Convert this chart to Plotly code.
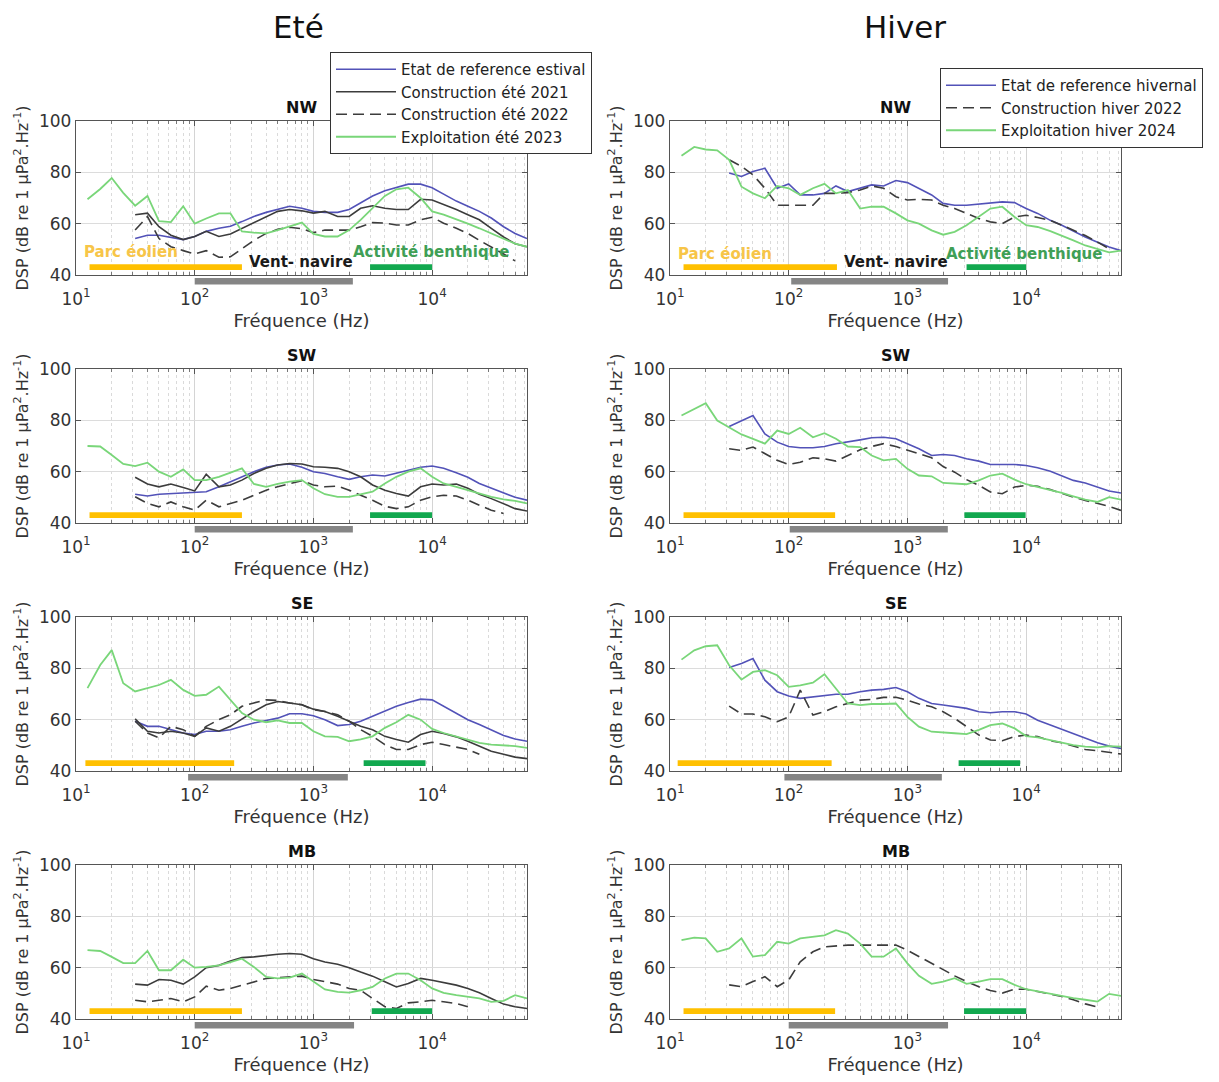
import math
import plotly.graph_objects as go

N = None
FREQ = [12.5, 16, 20, 25, 31.5, 40, 50, 63, 80, 100, 125, 160, 200, 250, 315, 400, 500, 630,
        800, 1000, 1250, 1600, 2000, 2500, 3150, 4000, 5000, 6300, 8000, 10000, 12500, 16000,
        20000, 25000, 31500, 40000, 50000, 63000]

# ---------------- Summer (Eté) ----------------
NW_S_REF = [N, N, N, N, 54.2, 55.5, 55.5, 54.8, 53.8, 55, 57, 58.2, 59, 60.8, 62.8, 64.4, 65.7, 66.8, 66, 64.8, 64.4, 64.4, 65.5, 68, 70.8, 72.8, 74.1, 75.4, 75.4, 74, 71.5, 68.8, 66.8, 64.8, 62.2, 58.8, 56.2, 54.2]
NW_S_C21 = [N, N, N, N, 63.5, 64.1, 58.8, 55.5, 53.8, 55, 57, 55, 56, 58.2, 60.2, 62.8, 64.8, 65.5, 65, 64.1, 64.8, 62.8, 62.8, 66, 67, 66, 65.5, 65.5, 69.5, 69.2, 67.5, 65.5, 63.5, 61.5, 58.2, 54.8, 52.2, 51]
NW_S_C22 = [N, N, N, N, 57.5, 62.8, 54.2, 51, 49.5, 48.2, 49.5, 46.9, 47.1, 50.2, 53.5, 56.2, 57.8, 58.6, 58, 56.5, 57.5, 57.5, 57.5, 58.8, 60.4, 60.2, 59.5, 59.5, 61.5, 62.5, 60.2, 58.2, 56.2, 53.5, 51, 48.2, 45.5, N]
NW_S_EXP = [69.5, 73.5, 77.8, 72, 67, 70.8, 61, 60.6, 66.8, 60, 62, 64, 64, 57, 56.5, 56.2, 57.5, 58.8, 60.4, 56, 55, 55, 57.5, 61.5, 66, 70.8, 73.4, 74, 70, 64.8, 63.5, 61.5, 60, 58.2, 56.2, 54.2, 52.2, 51]

SW_S_REF = [N, N, N, N, 51.2, 50.5, 51.2, 51.5, 51.8, 52.2, 52.2, 54.1, 56.1, 58, 60, 61.7, 62.6, 63, 61.7, 60, 59.3, 58, 57, 58, 58.7, 58.3, 59.3, 60.6, 61.7, 62.2, 61.3, 59.6, 57.8, 55.4, 53.5, 51.8, 50, 48.9]
SW_S_C21 = [N, N, N, N, 57.8, 55.2, 54.1, 55.2, 53.8, 52.5, 59, 54.1, 54.8, 56.7, 59.3, 61.3, 62.6, 63.2, 63, 61.9, 61.7, 61.3, 60, 58, 54.8, 52.8, 51.5, 50.5, 54.1, 55.2, 54.8, 55.2, 53.5, 51.2, 49.5, 47.6, 45.6, 44.7]
SW_S_C22 = [N, N, N, N, 50.2, 47.6, 46.3, 48.2, 46.3, 45, 48.9, 46.3, 47.6, 48.9, 50.8, 52.8, 54.1, 55.4, 56.5, 54.8, 54.1, 54.4, 52.8, 50.8, 48.9, 46.5, 45.6, 46.3, 48.9, 50.2, 50.8, 50.5, 48.9, 46.9, 45, 43.7, N, N]
SW_S_EXP = [70, 69.8, 66.5, 63, 62.2, 63.5, 60, 58, 60.9, 56.7, 56.7, 58, 59.6, 61.3, 55.2, 54.1, 55.2, 56.1, 56.7, 53.5, 51.2, 50.2, 50.2, 51.2, 52.2, 55.4, 58, 60, 61.3, 58, 55.4, 54.1, 52.8, 51.5, 50.2, 49.2, 48.6, 47.6]

SE_S_REF = [N, N, N, N, 59.4, 57.4, 57.4, 56.1, 54.8, 54.2, 55.5, 55.5, 56.1, 57.4, 58.7, 59.7, 60.6, 62.3, 62.3, 61.5, 60, 57.7, 58.1, 59.4, 61.3, 63.2, 65.2, 66.7, 68, 67.7, 65.2, 62.3, 60, 58.1, 56.1, 53.8, 52.5, 51.6]
SE_S_C21 = [N, N, N, N, 60.3, 55.5, 54.8, 55.5, 54.8, 53.5, 56.8, 55.5, 57.4, 60.3, 63.2, 65.8, 67.1, 66.5, 65.8, 64.1, 63.2, 61.3, 59.4, 57.4, 56.1, 53.5, 52.3, 51.2, 54.2, 55.5, 54.6, 53.3, 51.6, 49.7, 47.7, 46.5, 45.4, 44.8]
SE_S_C22 = [N, N, N, N, 59.4, 54.8, 52.9, 57.4, 56.1, 53.5, 57.4, 60, 61.9, 65.2, 66.5, 67.7, 67.5, 66.5, 65.8, 63.9, 63.2, 61.9, 59.4, 56.1, 53.5, 50.3, 48.4, 48.4, 50.3, 51.2, 50.3, 49.4, 48.4, 46.5, N, N, N, N]
SE_S_EXP = [72.3, 81.3, 87.1, 74.2, 71, 72.3, 73.5, 75.5, 71.6, 69.3, 69.7, 72.9, 67.7, 62.6, 60, 59, 59.7, 58.7, 58.7, 55.5, 53.5, 53.3, 51.6, 52.3, 53.5, 56.8, 59, 61.9, 60, 56.4, 54.8, 53.5, 52.3, 51, 50.3, 49.9, 49.7, 49]

MB_S_C21 = [N, N, N, N, 53.6, 53.2, 55.4, 55.1, 53.6, 56.4, 60, 60.9, 62.6, 63.9, 64.2, 64.8, 65.2, 65.5, 65.2, 63.5, 62.2, 61.3, 60, 58.3, 56.7, 54.5, 52.5, 53.8, 55.8, 55.1, 54.1, 53.2, 51.9, 50.2, 48, 45.8, 44.8, 44.1]
MB_S_C22 = [N, N, N, N, 47.3, 46.7, 47.3, 48, 46.7, 48.6, 52.8, 51.2, 51.9, 53.2, 54.5, 55.8, 56.1, 56.4, 56.7, 55.4, 54.5, 53.6, 51.9, 51.2, 48, 44.8, 44.1, 46.3, 46.7, 47.3, 46.7, 46, 44.8, N, N, N, N, N]
MB_S_EXP = [66.8, 66.5, 64.2, 61.8, 61.8, 66.5, 59, 59, 63.1, 60, 60.3, 60.9, 62.2, 63.5, 60.3, 56.4, 55.8, 56.1, 57.7, 54.5, 51.5, 50.6, 50.3, 51.2, 52.5, 55.8, 57.7, 57.7, 55.1, 51.9, 50.2, 49.3, 48.6, 48, 46.7, 47.1, 49.3, 48]

# ---------------- Winter (Hiver) ----------------
NW_W_REF = [N, N, N, N, 79.7, 78.4, 80.3, 81.6, 73.8, 75.5, 71.2, 71.2, 71.8, 74.7, 72.5, 73.8, 75.1, 74.7, 76.8, 76, 73.8, 71.2, 67.9, 67.2, 67.2, 67.6, 67.9, 68.5, 68.2, 65.9, 64, 61.3, 59.4, 57.1, 54.8, 52.8, 50.9, 49.5]
NW_W_C22 = [N, N, N, N, 84.9, 82.3, 79, 73.8, 67.2, 67.2, 67.2, 67.2, 71.8, 71.8, 72.1, 73.1, 74.7, 73.8, 70.5, 69.2, 69.5, 69.2, 67.2, 65.9, 64, 62, 60.7, 60, 62.6, 63.3, 62.4, 61.3, 59.4, 57.4, 55.4, 52.8, 50.2, N]
NW_W_EXP = [86.5, 89.9, 88.9, 88.6, 84.9, 74.4, 71.8, 69.9, 74.7, 73.8, 71.2, 73.8, 75.5, 71.8, 73.1, 65.9, 66.6, 66.6, 64, 61.3, 60, 57.4, 55.7, 56.8, 59.4, 62.6, 65.9, 66.6, 62.6, 59.4, 58.7, 57.1, 55.4, 53.5, 51.5, 50.2, 48.8, 49.5]

SW_W_REF = [N, N, N, N, 77.6, 79.7, 81.9, 74.7, 71.5, 69.8, 69.3, 69.3, 69.8, 70.9, 71.5, 72.4, 73.2, 73.4, 72.8, 70.9, 68.9, 66.3, 66.7, 66.3, 65, 64.1, 62.8, 62.8, 62.8, 62.4, 61.5, 60.2, 58.5, 56.6, 55.6, 54, 52.5, 51.7]
SW_W_C22 = [N, N, N, N, 68.9, 68.3, 69.6, 67, 64.4, 62.8, 63.7, 65.4, 65, 64.1, 66.3, 68.5, 69.8, 70.9, 69.8, 68.5, 67, 65.4, 62, 59.8, 56.9, 54.7, 52.1, 51.4, 54, 54.7, 54.3, 53, 51.4, 50.1, 48.8, 47.5, 46.5, 44.9]
SW_W_EXP = [81.9, 84.5, 86.7, 79.9, 77.3, 74.5, 72.8, 70.9, 76, 74.7, 77.1, 73.4, 75, 72.8, 69.8, 69.6, 66.3, 64.4, 65, 61.1, 58.5, 58.2, 55.6, 55.3, 55.1, 56.6, 58.5, 59.2, 56.9, 55.1, 54, 53, 51.7, 50.4, 49.1, 48.2, 50.1, 49.1]

SE_W_REF = [N, N, N, N, 80.3, 81.9, 83.8, 75.4, 70.9, 69.2, 68.3, 68.9, 69.6, 69.9, 69.9, 70.9, 71.5, 71.8, 72.5, 70.9, 68.3, 66.3, 65.7, 65, 64.4, 63.1, 62.7, 63.1, 63.1, 62.2, 59.8, 57.9, 56.2, 54.7, 52.7, 51, 49.7, 48.8]
SE_W_C22 = [N, N, N, N, 65.3, 62.2, 62.2, 61.1, 59.2, 61.1, 71.5, 61.8, 63.1, 65, 66.3, 67.6, 67.9, 68.7, 68.7, 67.6, 66.1, 65, 63.1, 60.5, 57.3, 54, 52.1, 51.8, 53.4, 54, 53.4, 51.8, 51, 49.7, 48.4, 47.9, 47.2, 46.6]
SE_W_EXP = [83.4, 87, 88.6, 89, 81.2, 75.6, 78.6, 79.3, 77.3, 72.8, 73.4, 74.4, 77.7, 72.2, 66.3, 65.7, 66.1, 66.1, 66.3, 61.1, 57.3, 55.3, 54.9, 54.7, 54.4, 56, 57.9, 58.5, 56.6, 53.6, 53.1, 52.1, 51, 50.1, 49.5, 49.2, 49.7, 49.5]

MB_W_C22 = [N, N, N, N, 53.3, 52.6, 54.6, 56.5, 52.6, 55.2, 62.3, 66.2, 68.1, 68.4, 68.8, 68.8, 68.8, 68.8, 68.8, 66.8, 64.3, 61.7, 59.1, 56.8, 54.6, 52.6, 51.1, 50.1, 51.6, 51.6, 50.7, 49.8, 48.8, 47.5, 45.9, 44.6, N, N]
MB_W_EXP = [70.7, 71.7, 71.4, 66.2, 67.5, 71.4, 64.3, 64.9, 70.1, 69.4, 71.4, 72, 72.6, 74.6, 73.3, 69.4, 64.3, 64.3, 67.5, 61.7, 56.8, 53.7, 54.6, 55.9, 53.7, 54.6, 55.5, 55.5, 53.3, 51.6, 50.7, 49.8, 48.8, 48.1, 47.5, 46.8, 49.8, 49]

SITES = ["NW", "SW", "SE", "MB"]
COL_TITLES = ["Eté", "Hiver"]

# band markers (Hz): [yellow start, yellow end], [gray start, gray end], [green start, green end]
BANDS_S = [[(13, 250), (100, 2150), (3000, 10000)],
           [(13, 250), (100, 2150), (3000, 10000)],
           [(12, 215), (88, 1950), (2650, 8800)],
           [(13, 250), (100, 2200), (3100, 10000)]]
BANDS_W = [[(13, 255), (105, 2200), (3150, 10000)],
           [(13, 246), (102, 2190), (3020, 9900)],
           [(11.6, 230), (92, 1950), (2700, 8900)],
           [(13, 246), (100, 2200), (3000, 10000)]]

# band labels (row 1 only): text, freq (Hz), level (dB)
LABELS_S = [("Parc éolien", 29, 48.9), ("Vent- navire", 780, 44.9), ("Activité benthique", 9800, 48.9)]
LABELS_W = [("Parc éolien", 29, 48.2), ("Vent- navire", 807, 45.0), ("Activité benthique", 9600, 48.2)]

SUMMER_NAMES = ["Etat de reference estival", "Construction été 2021", "Construction été 2022", "Exploitation été 2023"]
WINTER_NAMES = ["Etat de reference hivernal", "Construction hiver 2022", "Exploitation hiver 2024"]

summer = [
    {"ref": NW_S_REF, "c21": NW_S_C21, "c22": NW_S_C22, "exp": NW_S_EXP},
    {"ref": SW_S_REF, "c21": SW_S_C21, "c22": SW_S_C22, "exp": SW_S_EXP},
    {"ref": SE_S_REF, "c21": SE_S_C21, "c22": SE_S_C22, "exp": SE_S_EXP},
    {"ref": None, "c21": MB_S_C21, "c22": MB_S_C22, "exp": MB_S_EXP},
]
winter = [
    {"ref": NW_W_REF, "c22": NW_W_C22, "exp": NW_W_EXP},
    {"ref": SW_W_REF, "c22": SW_W_C22, "exp": SW_W_EXP},
    {"ref": SE_W_REF, "c22": SE_W_C22, "exp": SE_W_EXP},
    {"ref": None, "c22": MB_W_C22, "exp": MB_W_EXP},
]

BLUE = "#5252b8"
DARK = "#3c3c3c"
GREEN = "#79d679"
YEL_BAR = "#ffc000"
GRAY_BAR = "#858585"
GRN_BAR = "#12a84f"
FONT = "DejaVu Sans"
TXT = "#333333"

# page has an 8px body margin: work in page pixels and convert
OFF = 8
W, H = 1211, 1074

def px_x(p):
    return (p - OFF) / W

def px_y(p):
    return 1 - (p - OFF) / H

X_DOM = [(px_x(76), px_x(527)), (px_x(670), px_x(1121))]
ROW_TOP = [121, 369, 617, 865]
ROW_H = 154

fig = go.Figure()
layout = dict(width=W, height=H, margin=dict(l=0, r=0, t=0, b=0, autoexpand=False),
              paper_bgcolor="white", plot_bgcolor="white",
              font=dict(family=FONT, size=16, color=TXT), shapes=[], annotations=[])

minor_vals = [m * 10 ** k for k in range(1, 5) for m in range(2, 10)]

def style_line(kind):
    if kind == "ref":
        return dict(color=BLUE, width=1.6)
    if kind == "c21":
        return dict(color=DARK, width=1.6)
    if kind == "c22":
        return dict(color=DARK, width=1.6, dash="11px,6px")
    return dict(color=GREEN, width=1.8)

shown = set()
for col in range(2):
    for row in range(4):
        i = row * 2 + col + 1
        xs = "x" if i == 1 else f"x{i}"
        ys = "y" if i == 1 else f"y{i}"
        xk = "xaxis" if i == 1 else f"xaxis{i}"
        yk = "yaxis" if i == 1 else f"yaxis{i}"
        top = ROW_TOP[row]
        ydom = (px_y(top + ROW_H), px_y(top))
        layout[xk] = dict(domain=X_DOM[col], anchor=ys, type="log", range=[1, math.log10(63000)],
                          automargin=False,
                          tickvals=[10, 100, 1000, 10000],
                          ticktext=["10<sup>1</sup>", "10<sup>2</sup>", "10<sup>3</sup>", "10<sup>4</sup>"],
                          ticks="inside", ticklen=5, tickcolor="#555", mirror="allticks",
                          showline=True, linecolor="#555", linewidth=1.3,
                          showgrid=True, gridcolor="#d4d4d4", gridwidth=1,
                          minor=dict(tickvals=minor_vals, showgrid=True, gridcolor="#dadada",
                                     griddash="dot", ticks="inside", ticklen=3, tickcolor="#777"),
                          tickfont=dict(size=17, color=TXT), ticklabelstandoff=8,
                          title=dict(text="Fréquence (Hz)", font=dict(size=18, color=TXT), standoff=6),
                          zeroline=False)
        layout[yk] = dict(domain=ydom, anchor=xs, range=[40, 100], tickvals=[40, 60, 80, 100],
                          automargin=False,
                          ticks="inside", ticklen=5, tickcolor="#555", mirror="allticks",
                          showline=True, linecolor="#555", linewidth=1.3,
                          showgrid=True, gridcolor="#dcdcdc", zeroline=False,
                          tickfont=dict(size=17, color=TXT),
                          title=dict(text="DSP (dB re 1 µPa<sup>2</sup>.Hz<sup>-1</sup>)",
                                     font=dict(size=16, color=TXT), standoff=6))
        data = summer[row] if col == 0 else winter[row]
        names = SUMMER_NAMES if col == 0 else WINTER_NAMES
        keys = ["ref", "c21", "c22", "exp"] if col == 0 else ["ref", "c22", "exp"]
        leg = "legend" if col == 0 else "legend2"
        for k, nm in zip(keys, names):
            vals = data[k]
            if vals is None:
                continue
            fig.add_trace(go.Scatter(x=FREQ, y=vals, mode="lines", name=nm, line=style_line(k),
                                     xaxis=xs, yaxis=ys, legend=leg,
                                     showlegend=nm not in shown, connectgaps=False))
            shown.add(nm)
        bands = BANDS_S[row] if col == 0 else BANDS_W[row]
        (y0f, y1f), (g0f, g1f), (e0f, e1f) = bands
        layout["shapes"].append(dict(type="rect", xref=xs, yref=ys, x0=y0f, x1=y1f, y0=41.9, y1=44.2,
                                     fillcolor=YEL_BAR, line=dict(width=0), layer="above"))
        layout["shapes"].append(dict(type="rect", xref=xs, yref=ys, x0=e0f, x1=e1f, y0=41.9, y1=44.2,
                                     fillcolor=GRN_BAR, line=dict(width=0), layer="above"))
        layout["shapes"].append(dict(type="rect", xref=xs, yref=f"{ys} domain", x0=g0f, x1=g1f,
                                     y0=-0.062, y1=-0.02, fillcolor=GRAY_BAR, line=dict(width=0),
                                     layer="above"))
        layout["annotations"].append(dict(text=f"<b>{SITES[row]}</b>", xref=f"{xs} domain",
                                          yref=f"{ys} domain", x=0.5, y=1, yanchor="bottom",
                                          yshift=2, showarrow=False,
                                          font=dict(size=16, color="#111")))
        if row == 0:
            labels = LABELS_S if col == 0 else LABELS_W
            colors = ["#f7c548", "#1a1a1a", "#3f9f56"]
            for (t, f, lv), c in zip(labels, colors):
                layout["annotations"].append(dict(text=f"<b>{t}</b>", xref=xs, yref=ys,
                                                  x=math.log10(f), y=lv, showarrow=False,
                                                  font=dict(size=15, color=c)))

TITLE_X = [298, 905]
for col, t in enumerate(COL_TITLES):
    layout["annotations"].append(dict(text=t, xref="paper", yref="paper", x=px_x(TITLE_X[col]),
                                      y=px_y(27), xanchor="center", yanchor="middle",
                                      showarrow=False, font=dict(size=31, color="#111")))

layout["legend"] = dict(x=px_x(330), y=px_y(52), xanchor="left", yanchor="top", bgcolor="white",
                        bordercolor="#333", borderwidth=1, font=dict(size=15, color="#222"),
                        tracegroupgap=0, itemwidth=60)
layout["legend2"] = dict(x=px_x(940), y=px_y(68), xanchor="left", yanchor="top", bgcolor="white",
                         bordercolor="#333", borderwidth=1, font=dict(size=15, color="#222"),
                         tracegroupgap=0, itemwidth=50)

fig.update_layout(**layout)
fig.write_html("out.html")
